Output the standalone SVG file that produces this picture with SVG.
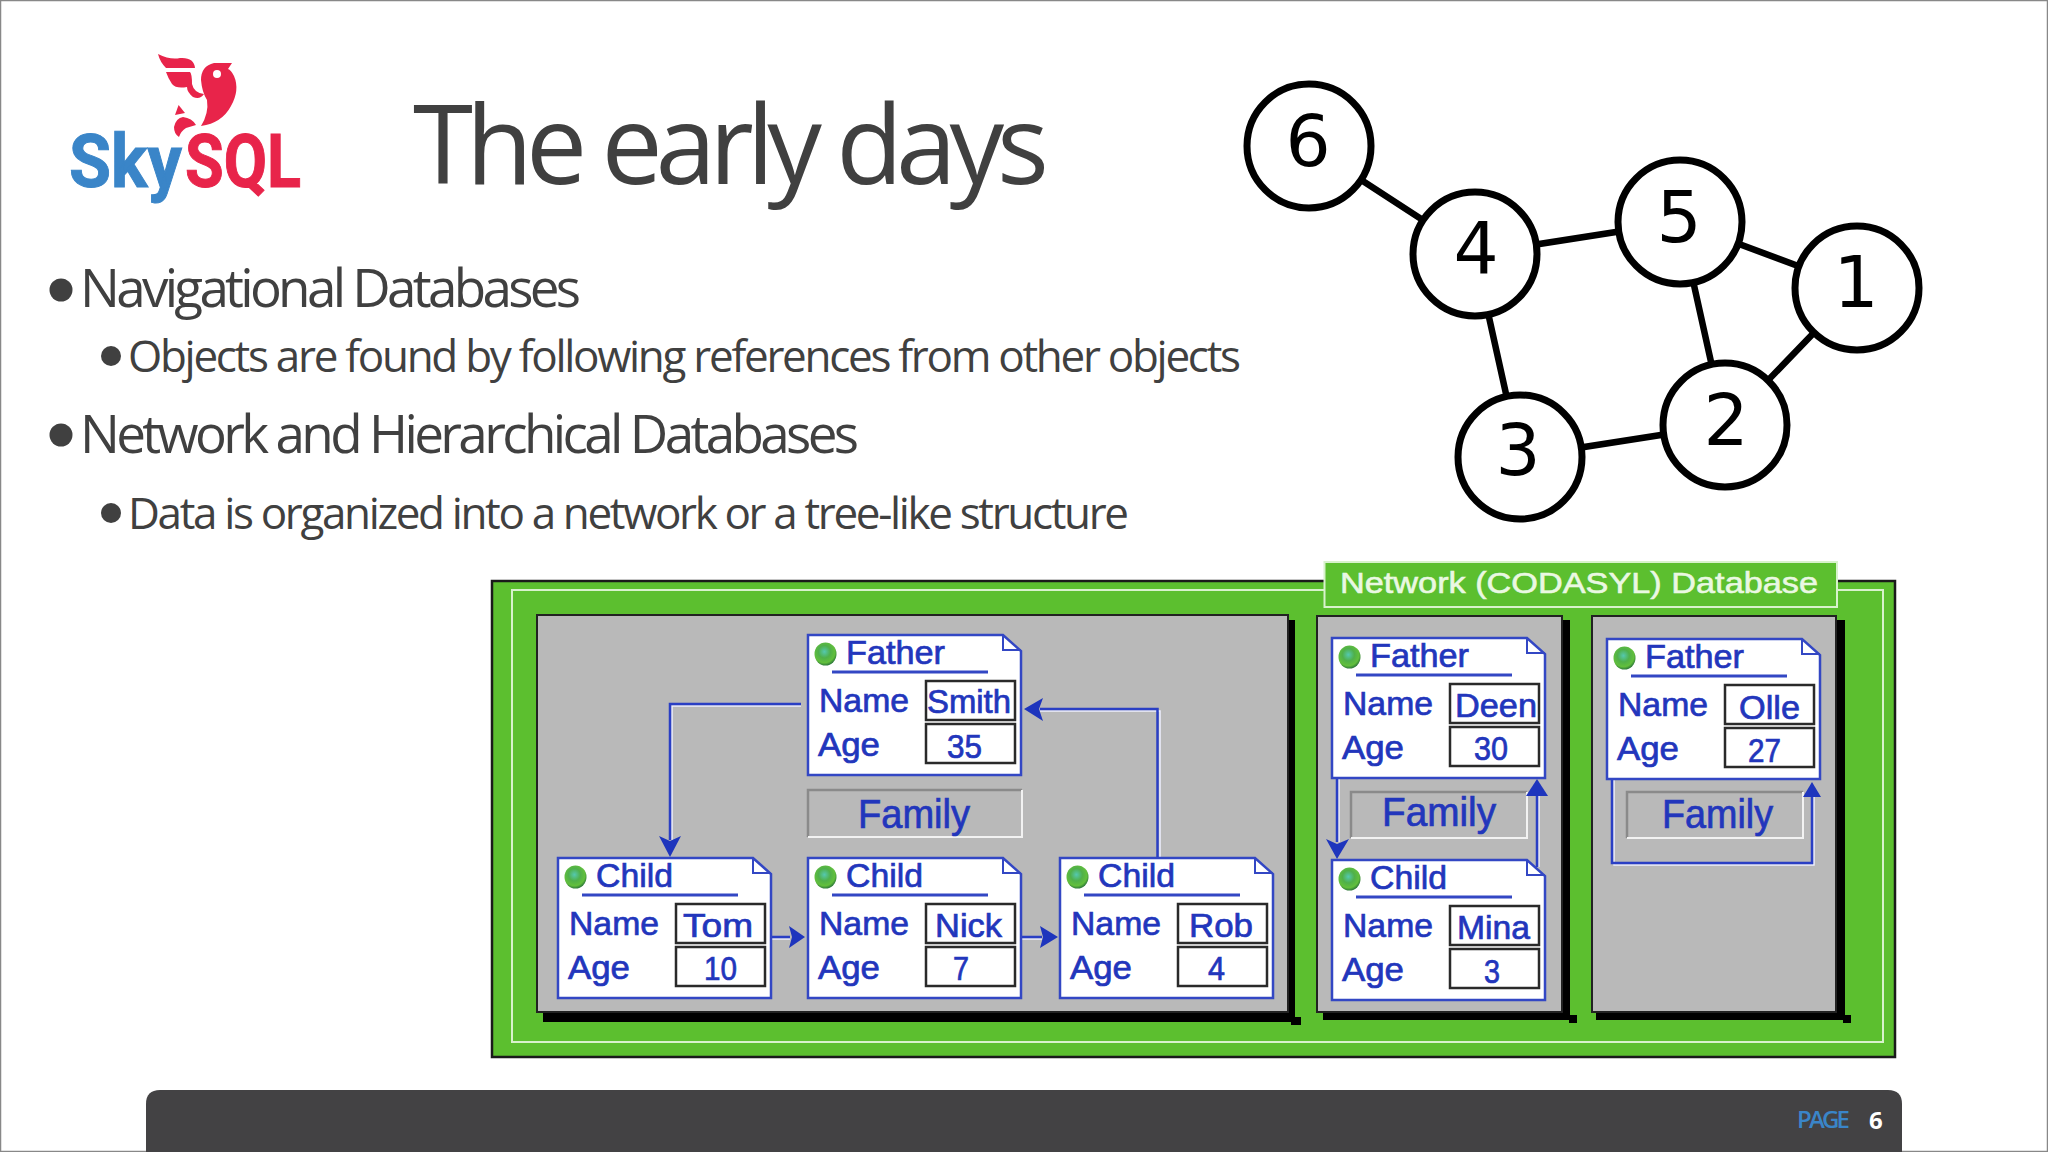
<svg xmlns="http://www.w3.org/2000/svg" width="2048" height="1152" viewBox="0 0 2048 1152">
<style>
.title{font-family:"Open Sans","Noto Sans",sans-serif;fill:#404040}
.body{font-family:"Open Sans","Noto Sans",sans-serif;fill:#404040}
.gedge{stroke:#000;stroke-width:6.500;fill:none}
.gnode{fill:#fff;stroke:#000;stroke-width:7}
.gnum{font-family:"DejaVu Sans",sans-serif;font-size:71px;text-anchor:middle;fill:#000}
.db{font-family:"Liberation Sans",Arial,sans-serif;fill:#2236bc;stroke:#2236bc;stroke-width:.7}
.f30{font-size:33px}
.fam{font-size:40px}
.card{fill:#fff;stroke:#3347c4;stroke-width:2.5}
.fold{fill:none;stroke:#3347c4;stroke-width:2}
.ul{stroke:#3347c4;stroke-width:3}
.val{fill:#fff;stroke:#2a2a2a;stroke-width:2.5}
.panel{fill:#b9b9b9;stroke:#222;stroke-width:2}
.wire{fill:none;stroke:#2a3fc4;stroke-width:2.5}
.wireh{fill:none;stroke:#eef0ff;stroke-width:1.5}
.head{fill:#1e35bd}
</style>
<defs>
<radialGradient id="dot" cx=".45" cy=".4" r=".6"><stop offset="0" stop-color="#55c8b0"/><stop offset=".45" stop-color="#4fb04a"/><stop offset=".8" stop-color="#62bf3c"/><stop offset="1" stop-color="#2f7a3a"/></radialGradient>
<g id="cardbase">
<path class="card" d="M0 0H195L213 16V140H0Z"/>
<path class="fold" d="M195 0V15H213"/>
<ellipse cx="17.5" cy="19" rx="11" ry="11.5" fill="url(#dot)"/>
<line class="ul" x1="24" y1="37" x2="180" y2="37"/>
<rect class="val" x="118" y="46" width="89" height="39"/>
<rect class="val" x="118" y="89" width="89" height="39"/>
<text class="db f30" x="11" y="77" textLength="90" lengthAdjust="spacingAndGlyphs">Name</text>
<text class="db f30" x="10" y="121" textLength="62" lengthAdjust="spacingAndGlyphs">Age</text>
</g>
</defs>
<rect width="2048" height="1152" fill="#fff"/>
<rect x=".5" y=".5" width="2047" height="1151" fill="none" stroke="#888" stroke-width="1.5"/>

<g id="logo">
<path d="M232 63L214 63Q201 66 201 80Q202 92 207 100Q209 113 201 126Q222 123 231 106Q240 90 234 76Q231 70 228 69Z" fill="#e8244a"/>
<circle cx="217" cy="74" r="4" fill="#fff"/>
<path d="M158 54Q170 60 180 58Q194 57 195 68L166 68Q160 62 158 54Z" fill="#e8244a"/>
<path d="M166 72L190 72Q192 74 192 84Q194 93 204 94Q200 100 193 97Q187 92 187 87Q176 89 172 84Q168 78 166 72Z" fill="#e8244a"/>
<path d="M178.600 105L185 113L175 115Z" fill="#e8244a"/>
<path d="M174 127Q176 118 183 117Q192 118 196 125L186 128Q181 131 179 137Q174 134 174 127Z" fill="#e8244a"/>
<text x="69" y="187" font-family="Roboto,sans-serif" font-weight="700" font-size="75" fill="#3a85c8" stroke="#3a85c8" textLength="113" lengthAdjust="spacingAndGlyphs">Sky</text>
<text x="185" y="187" font-family="Roboto,sans-serif" font-weight="700" font-size="75" fill="#e8244a" stroke="#e8244a" textLength="116" lengthAdjust="spacingAndGlyphs">SQL</text>
</g>

<text class="title" x="413" y="184" font-size="109" textLength="636" lengthAdjust="spacing">The early days</text>

<g id="bullets">
<circle cx="61" cy="290" r="11.500" fill="#404040"/>
<text class="body" x="80" y="307" font-size="53" textLength="501" lengthAdjust="spacing">Navigational Databases</text>
<circle cx="111" cy="356" r="10" fill="#404040"/>
<text class="body" x="128" y="372" font-size="44" textLength="1113" lengthAdjust="spacing">Objects are found by following references from other objects</text>
<circle cx="61" cy="435" r="11.500" fill="#404040"/>
<text class="body" x="80" y="453" font-size="53" textLength="779" lengthAdjust="spacing">Network and Hierarchical Databases</text>
<circle cx="111" cy="513" r="10" fill="#404040"/>
<text class="body" x="128" y="529" font-size="44" textLength="1001" lengthAdjust="spacing">Data is organized into a network or a tree-like structure</text>
</g>

<g id="graph-edges">
<path class="gedge" d="M1309 146L1475 254M1475 254L1680 222M1680 222L1857 288M1680 222L1725 425M1857 288L1725 425M1475 254L1520 457M1520 457L1725 425"/>
</g>
<g id="g6"><circle class="gnode" cx="1309" cy="146" r="62"/><text class="gnum" x="1308" y="166">6</text></g>
<g id="g4"><circle class="gnode" cx="1475" cy="254" r="62"/><text class="gnum" x="1476" y="273">4</text></g>
<g id="g5"><circle class="gnode" cx="1680" cy="222" r="62"/><text class="gnum" x="1679" y="242">5</text></g>
<g id="g1"><circle class="gnode" cx="1857" cy="288" r="62"/><text class="gnum" x="1856" y="307">1</text></g>
<g id="g2"><circle class="gnode" cx="1725" cy="425" r="62"/><text class="gnum" x="1726" y="445">2</text></g>
<g id="g3"><circle class="gnode" cx="1520" cy="457" r="62"/><text class="gnum" x="1518" y="475">3</text></g>

<g id="db-frame">
<rect x="492" y="581" width="1403" height="476" fill="#5cbf2f" stroke="#1a1a1a" stroke-width="2.500"/>
<rect x="512" y="590" width="1371" height="452" fill="none" stroke="#d8f2cc" stroke-width="2"/>
<rect x="543" y="620" width="752" height="402" fill="#000"/><rect x="1291" y="1017" width="10" height="8" fill="#000"/>
<rect x="1323" y="620" width="247" height="400" fill="#000"/><rect x="1569" y="1015" width="8" height="8" fill="#000"/>
<rect x="1596" y="620" width="249" height="400" fill="#000"/><rect x="1843" y="1015" width="8" height="8" fill="#000"/>
<rect class="panel" x="537" y="615" width="751" height="397"/>
<rect class="panel" x="1317" y="616" width="245" height="396"/>
<rect class="panel" x="1592" y="616" width="244" height="396"/>
</g>
<g id="db-title">
<rect x="1324.500" y="562" width="512.500" height="45" fill="#5cbf2f" stroke="#d8f2cc" stroke-width="2"/>
<text x="1340" y="593" font-family="'Liberation Sans',Arial,sans-serif" font-size="30" fill="#eaf8e2" stroke="#eaf8e2" stroke-width=".6" textLength="478" lengthAdjust="spacingAndGlyphs">Network (CODASYL) Database</text>
</g>

<g id="family-labels">
<g id="family1"><rect x="808" y="790" width="214" height="47" fill="#b9b9b9"/><path d="M808 837V790H1022" fill="none" stroke="#8a8a8a" stroke-width="2.500"/><path d="M808 837H1022V790" fill="none" stroke="#f2f2f2" stroke-width="2"/><text class="db fam" x="858" y="828" textLength="112" lengthAdjust="spacingAndGlyphs">Family</text></g>
<g id="family2"><rect x="1351" y="792" width="176" height="46" fill="#b9b9b9"/><path d="M1351 838V792H1527" fill="none" stroke="#8a8a8a" stroke-width="2.500"/><path d="M1351 838H1527V792" fill="none" stroke="#f2f2f2" stroke-width="2"/><text class="db fam" x="1382" y="826" textLength="114" lengthAdjust="spacingAndGlyphs">Family</text></g>
<g id="family3"><rect x="1627" y="792" width="176" height="46" fill="#b9b9b9"/><path d="M1627 838V792H1803" fill="none" stroke="#8a8a8a" stroke-width="2.500"/><path d="M1627 838H1803V792" fill="none" stroke="#f2f2f2" stroke-width="2"/><text class="db fam" x="1662" y="828" textLength="111" lengthAdjust="spacingAndGlyphs">Family</text></g>
</g>

<g id="connectors">
<path class="wireh" d="M801 706H672V840M1160 857V711H1040M772 939H790M1022 939H1042M1339 777V842M1539 867V795M1614 779V865H1814V797"/>
<path class="wire" d="M801 704H670V840M1157.500 857V709H1040M772 937H790M1022 937H1042M1337 777V842M1537 867V795M1612 779V863H1812V797"/>
<path class="head" d="M670 857L659 836L670 841L681 836Z"/>
<path class="head" d="M1024 709L1043 698L1039 709L1043 721Z"/>
<path class="head" d="M805 937L789 926L792 937L789 948Z"/>
<path class="head" d="M1058 937L1040 926L1043 937L1040 948Z"/>
<path class="head" d="M1337 859L1326 839L1337 844L1349 839Z"/>
<path class="head" d="M1537 779L1526 796H1548Z"/>
<path class="head" d="M1812 782L1803 797H1821Z"/>
</g>

<g id="father-smith" transform="translate(808 635)"><use href="#cardbase"/><text class="db f30" x="38" y="29" textLength="99" lengthAdjust="spacingAndGlyphs">Father</text><text class="db f30" x="119" y="78" textLength="84" lengthAdjust="spacingAndGlyphs">Smith</text><text class="db f30" x="139" y="123" textLength="35" lengthAdjust="spacingAndGlyphs">35</text></g>
<g id="child-tom" transform="translate(558 858)"><use href="#cardbase"/><text class="db f30" x="38" y="29" textLength="77" lengthAdjust="spacingAndGlyphs">Child</text><text class="db f30" x="125" y="79" textLength="70" lengthAdjust="spacingAndGlyphs">Tom</text><text class="db f30" x="146" y="122" textLength="33" lengthAdjust="spacingAndGlyphs">10</text></g>
<g id="child-nick" transform="translate(808 858)"><use href="#cardbase"/><text class="db f30" x="38" y="29" textLength="77" lengthAdjust="spacingAndGlyphs">Child</text><text class="db f30" x="127" y="79" textLength="67" lengthAdjust="spacingAndGlyphs">Nick</text><text class="db f30" x="145" y="122" textLength="16" lengthAdjust="spacingAndGlyphs">7</text></g>
<g id="child-rob" transform="translate(1060 858)"><use href="#cardbase"/><text class="db f30" x="38" y="29" textLength="77" lengthAdjust="spacingAndGlyphs">Child</text><text class="db f30" x="129" y="79" textLength="64" lengthAdjust="spacingAndGlyphs">Rob</text><text class="db f30" x="148" y="122" textLength="17" lengthAdjust="spacingAndGlyphs">4</text></g>
<g id="father-deen" transform="translate(1332 638)"><use href="#cardbase"/><text class="db f30" x="38" y="29" textLength="99" lengthAdjust="spacingAndGlyphs">Father</text><text class="db f30" x="123" y="79" textLength="82" lengthAdjust="spacingAndGlyphs">Deen</text><text class="db f30" x="142" y="122" textLength="34" lengthAdjust="spacingAndGlyphs">30</text></g>
<g id="child-mina" transform="translate(1332 860)"><use href="#cardbase"/><text class="db f30" x="38" y="29" textLength="77" lengthAdjust="spacingAndGlyphs">Child</text><text class="db f30" x="125" y="79" textLength="73" lengthAdjust="spacingAndGlyphs">Mina</text><text class="db f30" x="152" y="123" textLength="16" lengthAdjust="spacingAndGlyphs">3</text></g>
<g id="father-olle" transform="translate(1607 639)"><use href="#cardbase"/><text class="db f30" x="38" y="29" textLength="99" lengthAdjust="spacingAndGlyphs">Father</text><text class="db f30" x="132" y="80" textLength="61" lengthAdjust="spacingAndGlyphs">Olle</text><text class="db f30" x="141" y="123" textLength="33" lengthAdjust="spacingAndGlyphs">27</text></g>

<g id="footer">
<path d="M146 1152V1104Q146 1090 160 1090H1888Q1902 1090 1902 1104V1152Z" fill="#434244"/>
<text x="1797" y="1128" font-family="'Open Sans',sans-serif" font-size="24" font-weight="600" fill="#3a85c8" textLength="53" lengthAdjust="spacing">PAGE</text>
<text x="1869" y="1129" font-family="'Open Sans',sans-serif" font-size="24" font-weight="700" fill="#fff">6</text>
</g>
</svg>
